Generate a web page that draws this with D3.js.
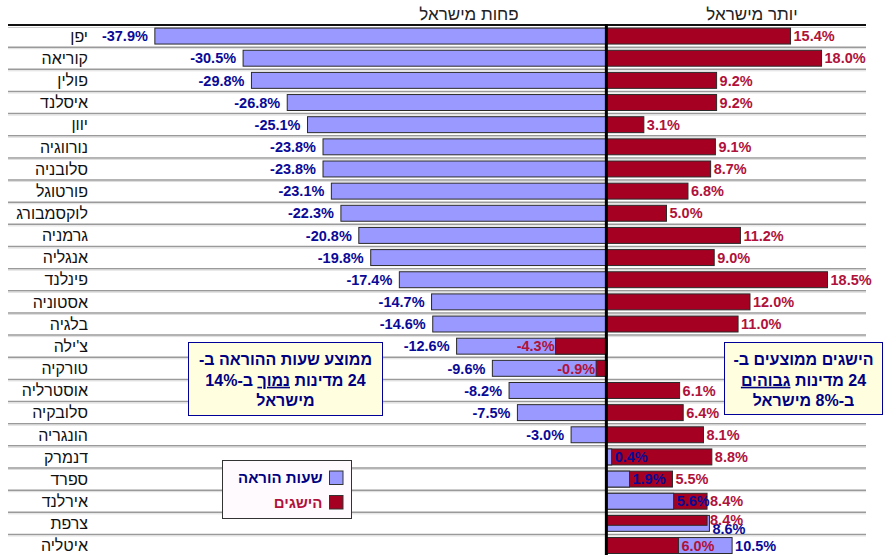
<!DOCTYPE html>
<html>
<head>
<meta charset="utf-8">
<script src="https://cdn.jsdelivr.net/npm/d3@7"></script>
<style>
  body { margin: 0; background: #fff; }
  svg { display: block; }
</style>
</head>
<body>
<script>
const width = 884;
const height = 555;
const font = "Arial, 'Liberation Sans', 'DejaVu Sans', sans-serif";

// data (% difference from Israel)
const countries = ["יפן", "קוריאה", "פולין", "איסלנד", "יוון", "נורווגיה", "סלובניה", "פורטוגל",
  "לוקסמבורג", "גרמניה", "אנגליה", "פינלנד", "אסטוניה", "בלגיה", "צ'ילה", "טורקיה",
  "אוסטרליה", "סלובקיה", "הונגריה", "דנמרק", "ספרד", "אירלנד", "צרפת", "איטליה"];
const hours = [-37.9, -30.5, -29.8, -26.8, -25.1, -23.8, -23.8, -23.1, -22.3, -20.8, -19.8, -17.4,
  -14.7, -14.6, -12.6, -9.6, -8.2, -7.5, -3.0, 0.4, 1.9, 5.6, 8.6, 10.5];
const achievements = [15.4, 18.0, 9.2, 9.2, 3.1, 9.1, 8.7, 6.8, 5.0, 11.2, 9.0, 18.5,
  12.0, 11.0, -4.3, -0.9, 6.1, 6.4, 8.1, 8.8, 5.5, 8.4, 8.4, 6.0];
const seriesNames = ["שעות הוראה", "הישגים"];
const headers = ["פחות מישראל", "יותר מישראל"];

// the row where the source draws the two bars split
const splitRow = "צרפת";

const colors = {
  hoursFill: "#9999ff", hoursText: "#0a0a96",
  achFill: "#a50021", achText: "#b0123a"
};

const svg = d3.select("body").append("svg")
  .attr("width", width)
  .attr("height", height);

const x = d3.scaleLinear().domain([-40, 20]).range([129.8, 845.4]);
const y = d3.scaleBand().domain(countries).range([25, 556.6])
  .paddingInner(0.28).paddingOuter(0.14);
const step = y.step();
const rowTop = c => y(c) - step * 0.14;
const x0 = x(0);

// row separators
const sep = svg.append("g");
countries.slice(1).forEach(c => {
  const yy = rowTop(c);
  sep.append("line").attr("x1", 8).attr("x2", 866).attr("y1", yy).attr("y2", yy)
    .attr("stroke", "#9a9a9a").attr("stroke-width", 1.5);
  sep.append("line").attr("x1", 8).attr("x2", 866).attr("y1", yy + 1.5).attr("y2", yy + 1.5)
    .attr("stroke", "#dddddd").attr("stroke-width", 1);
});
svg.append("line").attr("x1", 8).attr("x2", 866).attr("y1", 25).attr("y2", 25)
  .attr("stroke", "#111").attr("stroke-width", 2.2);
svg.append("line").attr("x1", 8).attr("x2", 866).attr("y1", 27.5).attr("y2", 27.5)
  .attr("stroke", "#cccccc").attr("stroke-width", 1);

// headers
svg.selectAll(".hdr").data(headers).enter().append("text")
  .attr("class", "hdr")
  .attr("x", (d, i) => i === 0 ? 469 : 752)
  .attr("y", 20)
  .attr("text-anchor", "middle")
  .attr("direction", "rtl")
  .attr("font-family", font)
  .attr("font-size", 17)
  .attr("fill", "#222")
  .text(d => d);

// category labels
svg.selectAll(".cat").data(countries).enter().append("text")
  .attr("class", "cat")
  .attr("x", 88)
  .attr("y", d => rowTop(d) + step / 2)
  .attr("dy", "0.36em")
  .attr("direction", "rtl")
  .attr("text-anchor", "start")
  .attr("font-family", font)
  .attr("font-size", 16)
  .attr("fill", "#111")
  .text(d => d);

// bars: per row the longer bar first, the shorter on top
const rows = countries.map((c, i) => ({ c, h: hours[i], a: achievements[i] }));
const barsG = svg.append("g");
const labelsG = svg.append("g");
const fmt = v => v.toFixed(1) + "%";

rows.forEach(r => {
  const items = [
    { key: "h", v: r.h, fill: colors.hoursFill, text: colors.hoursText },
    { key: "a", v: r.a, fill: colors.achFill, text: colors.achText }
  ];
  items.sort((p, q) => Math.abs(q.v) - Math.abs(p.v));
  const split = r.c === splitRow;
  items.forEach((it, k) => {
    let by = y(r.c), bh = y.bandwidth();
    if (split && it.key === "a") bh = bh * 0.62;
    it.cy = by + bh / 2;
    if (split) it.cy = it.key === "h" ? by + bh * 0.82 : by + bh / 2 - 1;
    barsG.append("rect")
      .attr("x", Math.min(x(it.v), x0))
      .attr("y", by)
      .attr("width", Math.abs(x(it.v) - x0))
      .attr("height", bh)
      .attr("fill", it.fill)
      .attr("stroke", "#2a2a2a")
      .attr("stroke-width", 1);
  });
  items.forEach(it => {
    const neg = it.v < 0;
    const gap = neg ? (it.key === "h" ? 7 : 1) : 3;
    labelsG.append("text")
      .attr("x", x(it.v) + (neg ? -gap : gap))
      .attr("y", it.cy)
      .attr("dy", "0.36em")
      .attr("text-anchor", neg ? "end" : "start")
      .attr("font-family", font)
      .attr("font-size", 14.5)
      .attr("font-weight", "bold")
      .attr("fill", it.text)
      .text(fmt(it.v));
  });
});

// zero line
svg.append("line").attr("x1", x0 - 0.5).attr("x2", x0 - 0.5).attr("y1", 24).attr("y2", height)
  .attr("stroke", "#000").attr("stroke-width", 3);

// annotation boxes
function note(bx, by, bw, bh, lines) {
  const g = svg.append("g");
  g.append("rect").attr("x", bx).attr("y", by).attr("width", bw).attr("height", bh)
    .attr("fill", "#ffffe0").attr("stroke", "#000099").attr("stroke-width", 1);
  lines.forEach((parts, i) => {
    const t = g.append("text")
      .attr("x", bx + bw / 2)
      .attr("y", by + 17 + i * 20.5)
      .attr("dy", "0.36em")
      .attr("text-anchor", "middle")
      .attr("direction", "rtl")
      .attr("font-family", font)
      .attr("font-size", 16)
      .attr("font-weight", "bold")
      .attr("fill", "#000080");
    parts.forEach(p => {
      const s = t.append("tspan").text(p.t);
      if (p.u) s.attr("text-decoration", "underline");
    });
  });
}
note(188.5, 342.5, 194, 73, [
  [{ t: "ממוצע שעות ההוראה ב-" }],
  [{ t: "24 מדינות " }, { t: "נמוך", u: true }, { t: " ב-14%" }],
  [{ t: "מישראל" }]
]);
note(724.5, 342.5, 158, 72, [
  [{ t: "הישגים ממוצעים ב-" }],
  [{ t: "24 מדינות " }, { t: "גבוהים", u: true }],
  [{ t: "ב-8% מישראל" }]
]);

// legend
const leg = svg.append("g");
leg.append("rect").attr("x", 222.5).attr("y", 460.5).attr("width", 129).attr("height", 58)
  .attr("fill", "#fffafd").attr("stroke", "#333").attr("stroke-width", 1);
seriesNames.forEach((n, i) => {
  const cy = 478 + i * 24.5;
  leg.append("rect").attr("x", 329.5).attr("y", cy - 7).attr("width", 13.5).attr("height", 13.5)
    .attr("fill", i === 0 ? colors.hoursFill : colors.achFill)
    .attr("stroke", "#333").attr("stroke-width", 1);
  leg.append("text")
    .attr("x", 322.5).attr("y", cy).attr("dy", "0.36em")
    .attr("direction", "rtl").attr("text-anchor", "start")
    .attr("font-family", font).attr("font-size", 15).attr("font-weight", "bold")
    .attr("fill", i === 0 ? "#000080" : colors.achText)
    .text(n);
});
</script>
</body>
</html>
